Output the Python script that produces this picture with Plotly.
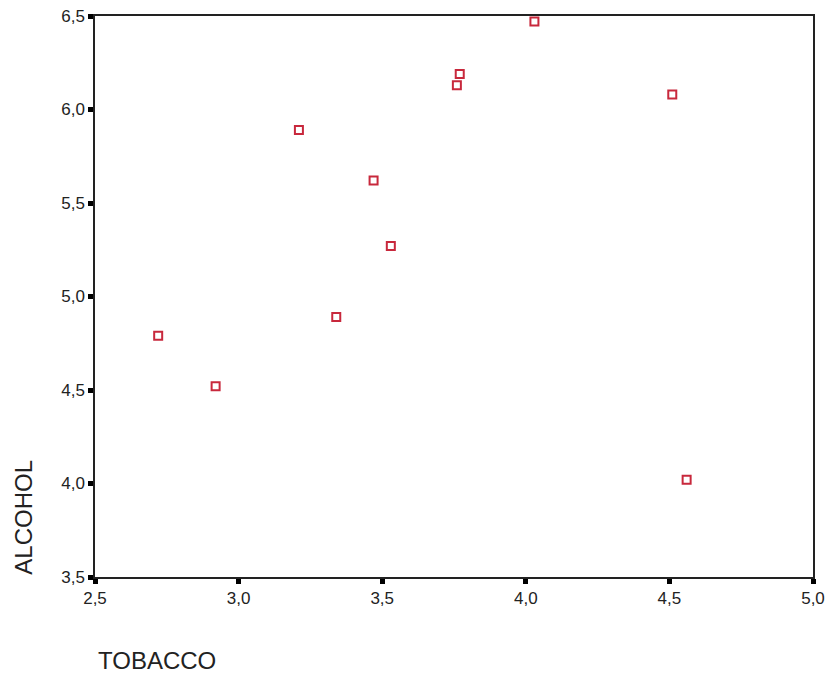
import plotly.graph_objects as go

tobacco = [2.72, 2.92, 3.21, 3.34, 3.47, 3.53, 3.77, 3.76, 4.03, 4.51, 4.56]
alcohol = [4.79, 4.52, 5.89, 4.89, 5.62, 5.27, 6.19, 6.13, 6.47, 6.08, 4.02]
x_ticks = [2.5, 3.0, 3.5, 4.0, 4.5, 5.0]
y_ticks = [3.5, 4.0, 4.5, 5.0, 5.5, 6.0, 6.5]
x_title = "TOBACCO"
y_title = "ALCOHOL"

fig = go.Figure()
fig.add_trace(go.Scatter(
    x=tobacco, y=alcohol, mode="markers",
    marker=dict(symbol="square-open", size=8, color="#c8283c",
                line=dict(width=2, color="#c8283c")),
    showlegend=False, cliponaxis=False,
))

axis_common = dict(
    showgrid=False, zeroline=False, showline=True, mirror=True,
    linecolor="#222", linewidth=1.5, automargin=False,
    ticks="outside", ticklen=5, tickwidth=5, tickcolor="#000",
    tickformat=".1f", tickfont=dict(family="Liberation Sans, Arial", size=17, color="#222"),
)

fig.update_layout(
    width=827, height=675,
    margin=dict(l=95, r=14, t=16, b=98),
    paper_bgcolor="white", plot_bgcolor="white",
    separators=",.",
    xaxis=dict(range=[2.5, 5.0], tickvals=x_ticks, **axis_common),
    yaxis=dict(range=[3.5, 6.5], tickvals=y_ticks, **axis_common),
    annotations=[
        dict(text=x_title, xref="paper", yref="paper", x=0.002, y=-0.148,
             xanchor="left", yanchor="middle", showarrow=False,
             font=dict(family="Liberation Sans, Arial", size=24, color="#222")),
        dict(text=y_title, xref="paper", yref="paper", x=-0.100, y=0,
             xanchor="center", yanchor="bottom", textangle=-90, showarrow=False,
             font=dict(family="Liberation Sans, Arial", size=24, color="#222")),
    ],
)

fig.write_html("out.html")
